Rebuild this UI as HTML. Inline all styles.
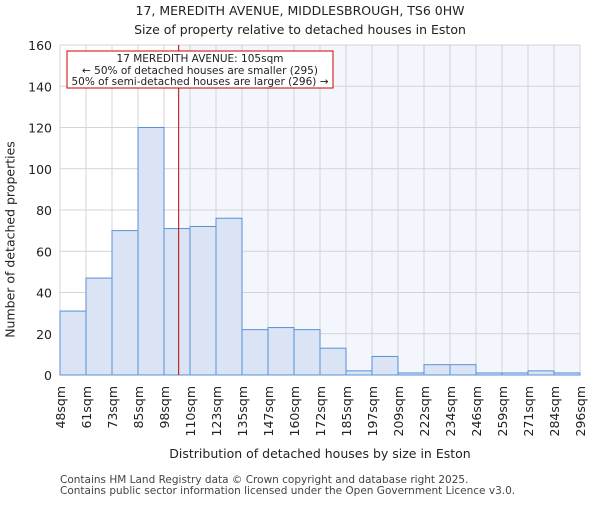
<!DOCTYPE html>
<html><head><meta charset="utf-8"><style>
body{margin:0;background:#fff;}
svg text{font-family:"DejaVu Sans","Liberation Sans",sans-serif;fill:#222;}
</style></head><body>
<svg width="600" height="500" id="c"></svg>
<script>
const labels=["48sqm","61sqm","73sqm","85sqm","98sqm","110sqm","123sqm","135sqm","147sqm","160sqm","172sqm","185sqm","197sqm","209sqm","222sqm","234sqm","246sqm","259sqm","271sqm","284sqm","296sqm"];
const counts=[31,47,70,120,71,72,76,22,23,22,13,2,9,1,5,5,1,1,2,1];
const yTicks=[0,20,40,60,80,100,120,140,160];
const markerPos=4+7/12.4; // 105sqm in bin-index units
const X0=60,X1=580,Y0=375,Y1=45,YMAX=160;
const bw=(X1-X0)/counts.length;
const xs=i=>X0+i*bw, ys=v=>Y0-(v/YMAX)*(Y0-Y1);
const s=document.getElementById('c');const NS="http://www.w3.org/2000/svg";
function mk(t,a,txt){const e=document.createElementNS(NS,t);for(const k in a)e.setAttribute(k,a[k]);if(txt!==undefined)e.textContent=txt;s.appendChild(e);return e;}
const mx=xs(markerPos);
let e=mk('rect',{x:mx,y:Y1,width:X1-mx,height:Y0-Y1,fill:'#f3f6fc'});


yTicks.forEach(v=>{let g=mk('line',{x1:X0,x2:X1,y1:ys(v),y2:ys(v),stroke:'#d4d4d4','stroke-width':1});


let t=mk('text',{x:X0-8,y:ys(v)+5,'text-anchor':'end','font-size':12.5},v);

});
labels.forEach((l,i)=>{let g=mk('line',{x1:xs(i),x2:xs(i),y1:Y1,y2:Y0,stroke:'#d4d4d4','stroke-width':1});


let t=mk('text',{x:0,y:0,'text-anchor':'end','font-size':12.5,transform:`translate(${xs(i)+5},386) rotate(-90)`},l);

});
counts.forEach((v,i)=>{let r=mk('rect',{x:xs(i),y:ys(v),width:bw,height:Y0-ys(v),fill:'#dae4f4',stroke:'#5b8fd8','stroke-width':1});

});
e=mk('line',{x1:mx,x2:mx,y1:Y1,y2:Y0,stroke:'#b00','stroke-width':1});


e=mk('rect',{x:67,y:51,width:266,height:37,fill:'#fff',stroke:'#c00','stroke-width':1});


[["17 MEREDITH AVENUE: 105sqm",62],["← 50% of detached houses are smaller (295)",74],["50% of semi-detached houses are larger (296) →",85]].forEach(a=>{let t=mk('text',{x:200,y:a[1],'text-anchor':'middle','font-size':10.5},a[0]);

});
</script>
<div style="position:absolute;left:0;top:0;width:600px;height:500px;pointer-events:none;font-family:'DejaVu Sans','Liberation Sans',sans-serif;color:#222">
<div style="position:absolute;top:1px;width:600px;text-align:center;font-size:12.5px;line-height:19px">17, MEREDITH AVENUE, MIDDLESBROUGH, TS6 0HW<br>Size of property relative to detached houses in Eston</div>
<div style="position:absolute;top:446px;left:60px;width:520px;text-align:center;font-size:12.5px">Distribution of detached houses by size in Eston</div>
<div style="position:absolute;left:-90px;top:232px;width:200px;text-align:center;font-size:12.5px;white-space:nowrap;transform:rotate(-90deg)">Number of detached properties</div>
<div style="position:absolute;left:60px;top:475px;font-size:10.5px;line-height:10.5px;color:#444">Contains HM Land Registry data © Crown copyright and database right 2025.<br>Contains public sector information licensed under the Open Government Licence v3.0.</div>
</div>
</body></html>
